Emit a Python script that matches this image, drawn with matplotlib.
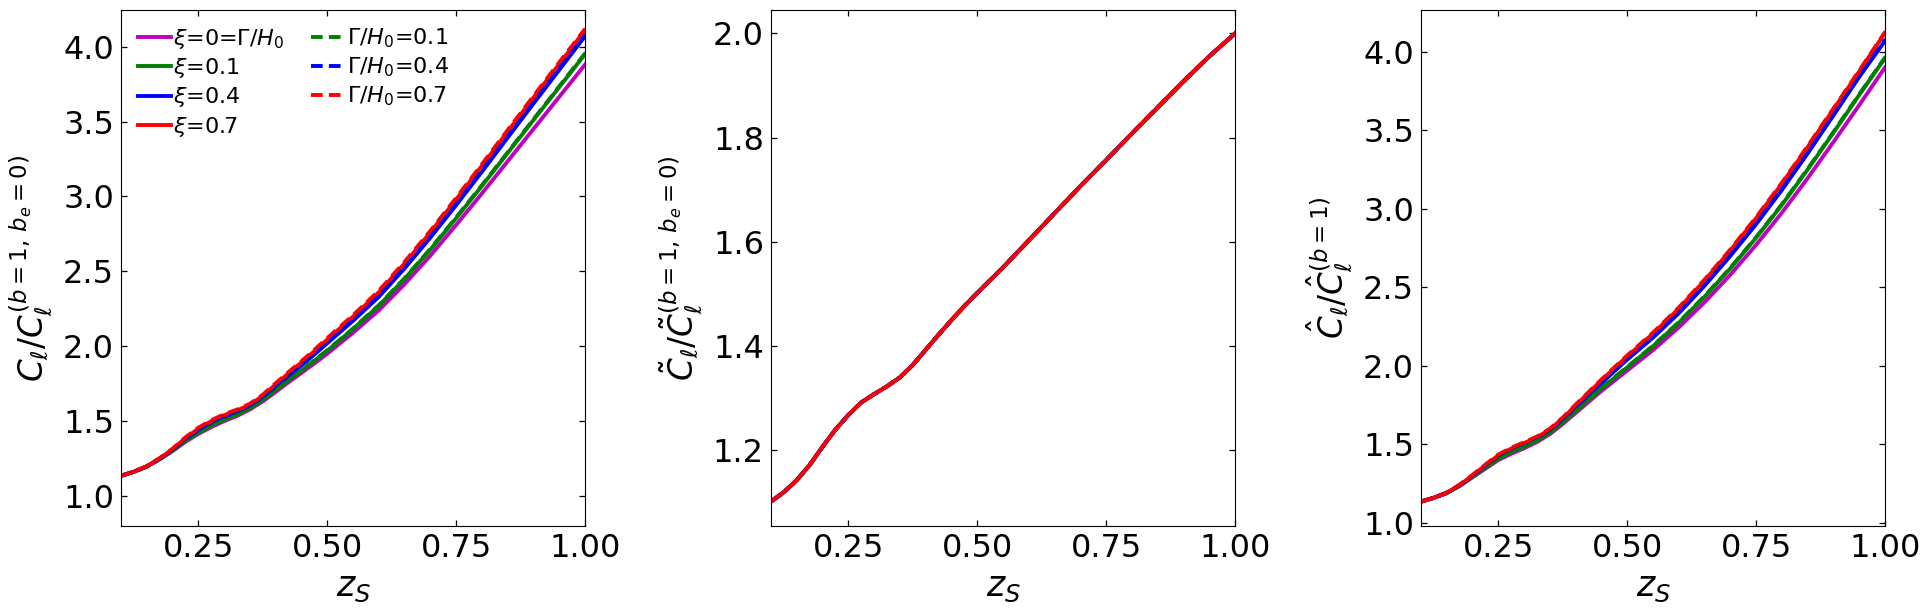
import matplotlib
matplotlib.use("Agg")
import matplotlib.pyplot as plt

z = [0.10, 0.125, 0.15, 0.175, 0.20, 0.225, 0.25, 0.275, 0.30, 0.325, 0.35, 0.375,
     0.40, 0.425, 0.45, 0.475, 0.50, 0.55, 0.60, 0.65, 0.70, 0.75, 0.80, 0.85,
     0.90, 0.95, 1.00]

# Panel 1: C_l / C_l^(b=1, be=0)
p1_xi0 = [1.135, 1.162, 1.197, 1.245, 1.300, 1.362, 1.415, 1.460, 1.500, 1.535, 1.578, 1.632,
          1.695, 1.760, 1.822, 1.885, 1.950, 2.090, 2.240, 2.415, 2.605, 2.810, 3.020, 3.235,
          3.450, 3.665, 3.880]
p1_xi01 = [1.135, 1.162, 1.197, 1.247, 1.304, 1.368, 1.423, 1.470, 1.510, 1.544, 1.586, 1.642,
           1.707, 1.774, 1.838, 1.903, 1.970, 2.115, 2.270, 2.450, 2.645, 2.855, 3.070, 3.290,
           3.510, 3.730, 3.950]
p1_xi04 = [1.135, 1.162, 1.198, 1.249, 1.309, 1.380, 1.440, 1.490, 1.530, 1.562, 1.602, 1.660,
           1.731, 1.803, 1.872, 1.945, 2.020, 2.170, 2.330, 2.520, 2.725, 2.942, 3.165, 3.393,
           3.620, 3.845, 4.070]
p1_xi07 = [1.135, 1.162, 1.199, 1.251, 1.312, 1.387, 1.450, 1.500, 1.540, 1.571, 1.610, 1.670,
           1.745, 1.820, 1.892, 1.967, 2.045, 2.198, 2.360, 2.553, 2.760, 2.980, 3.205, 3.433,
           3.660, 3.885, 4.110]
p1_g01 = [1.135, 1.162, 1.197, 1.247, 1.305, 1.369, 1.425, 1.472, 1.512, 1.546, 1.588, 1.644,
          1.709, 1.776, 1.840, 1.906, 1.973, 2.118, 2.274, 2.454, 2.650, 2.860, 3.075, 3.295,
          3.515, 3.735, 3.955]
p1_g04 = [1.135, 1.162, 1.198, 1.250, 1.311, 1.383, 1.444, 1.494, 1.534, 1.566, 1.606, 1.664,
          1.736, 1.808, 1.877, 1.950, 2.026, 2.176, 2.336, 2.527, 2.732, 2.950, 3.173, 3.401,
          3.628, 3.853, 4.078]
p1_g07 = [1.135, 1.162, 1.200, 1.253, 1.316, 1.392, 1.456, 1.506, 1.546, 1.577, 1.616, 1.677,
          1.753, 1.828, 1.900, 1.976, 2.054, 2.207, 2.370, 2.563, 2.770, 2.990, 3.215, 3.443,
          3.670, 3.895, 4.118]

# Panel 2: tilde C_l ratio (all models nearly coincide)
p2_all = [1.102, 1.120, 1.143, 1.172, 1.207, 1.240, 1.268, 1.292, 1.308, 1.323, 1.340, 1.364,
          1.393, 1.422, 1.450, 1.477, 1.502, 1.551, 1.603, 1.655, 1.707, 1.757, 1.808, 1.858,
          1.908, 1.956, 2.000]

# Panel 3: hat C_l / hat C_l^(b=1)
p3_xi0 = [1.135, 1.160, 1.190, 1.235, 1.290, 1.345, 1.400, 1.440, 1.475, 1.515, 1.565, 1.630,
          1.700, 1.770, 1.840, 1.905, 1.970, 2.100, 2.245, 2.405, 2.580, 2.770, 2.975, 3.195,
          3.425, 3.660, 3.900]
p3_xi01 = [1.135, 1.160, 1.190, 1.237, 1.294, 1.351, 1.408, 1.450, 1.485, 1.524, 1.573, 1.640,
           1.712, 1.784, 1.856, 1.923, 1.990, 2.125, 2.275, 2.440, 2.620, 2.815, 3.025, 3.250,
           3.485, 3.725, 3.960]
p3_xi04 = [1.135, 1.160, 1.191, 1.239, 1.299, 1.363, 1.425, 1.470, 1.505, 1.542, 1.589, 1.658,
           1.736, 1.813, 1.890, 1.965, 2.040, 2.180, 2.335, 2.510, 2.700, 2.902, 3.120, 3.353,
           3.595, 3.840, 4.070]
p3_xi07 = [1.135, 1.160, 1.192, 1.241, 1.302, 1.367, 1.430, 1.473, 1.508, 1.545, 1.595, 1.666,
           1.748, 1.828, 1.908, 1.985, 2.060, 2.205, 2.365, 2.543, 2.735, 2.940, 3.160, 3.393,
           3.633, 3.875, 4.120]
p3_g01 = [1.135, 1.160, 1.190, 1.238, 1.295, 1.353, 1.410, 1.452, 1.487, 1.526, 1.575, 1.642,
          1.715, 1.787, 1.859, 1.926, 1.993, 2.128, 2.278, 2.444, 2.624, 2.819, 3.029, 3.254,
          3.489, 3.729, 3.964]
p3_g04 = [1.135, 1.160, 1.192, 1.241, 1.302, 1.367, 1.429, 1.474, 1.509, 1.546, 1.593, 1.662,
          1.741, 1.818, 1.895, 1.970, 2.045, 2.186, 2.341, 2.516, 2.707, 2.909, 3.127, 3.360,
          3.602, 3.846, 4.076]
p3_g07 = [1.135, 1.160, 1.193, 1.243, 1.305, 1.371, 1.435, 1.478, 1.513, 1.550, 1.600, 1.671,
          1.753, 1.833, 1.913, 1.990, 2.066, 2.211, 2.371, 2.549, 2.741, 2.946, 3.166, 3.399,
          3.639, 3.880, 4.125]

labels = [r'$\xi$=0=$\Gamma/H_0$', r'$\xi$=0.1', r'$\xi$=0.4', r'$\xi$=0.7',
          r'$\Gamma/H_0$=0.1', r'$\Gamma/H_0$=0.4', r'$\Gamma/H_0$=0.7']
colors = ['m', 'g', 'b', 'r', 'g', 'b', 'r']
styles = ['-', '-', '-', '-', '--', '--', '--']

panels = [
    [p1_xi0, p1_xi01, p1_xi04, p1_xi07, p1_g01, p1_g04, p1_g07],
    [p2_all] * 7,
    [p3_xi0, p3_xi01, p3_xi04, p3_xi07, p3_g01, p3_g04, p3_g07],
]
ylabels = [r'$C_\ell/C_\ell^{(b=1,\,b_e=0)}$',
           r'$\tilde{C}_\ell/\tilde{C}_\ell^{(b=1,\,b_e=0)}$',
           r'$\hat{C}_\ell/\hat{C}_\ell^{(b=1)}$']
yticks = [[1.0, 1.5, 2.0, 2.5, 3.0, 3.5, 4.0],
          [1.2, 1.4, 1.6, 1.8, 2.0],
          [1.0, 1.5, 2.0, 2.5, 3.0, 3.5, 4.0]]
ylims = [(0.80, 4.245), (1.055, 2.045), (0.98, 4.266)]

W, H = 1932, 612
fig = plt.figure(figsize=(W / 100, H / 100), dpi=100)
lefts = [121, 771, 1421]

for i in range(3):
    ax = fig.add_axes([lefts[i] / W, 86 / H, 464 / W, 516 / H])
    for series, c, ls, lab in zip(panels[i], colors, styles, labels):
        kw = dict(color=c, lw=2.8, label=lab)
        if ls == '--':
            kw['dashes'] = (3.0, 1.6)
        ax.plot(z, series, **kw)
    ax.set_xlim(0.1, 1.0)
    ax.set_ylim(*ylims[i])
    ax.set_xticks([0.25, 0.50, 0.75, 1.00])
    ax.set_xticklabels(['0.25', '0.50', '0.75', '1.00'])
    ax.set_yticks(yticks[i])
    ax.set_yticklabels(['%.1f' % t for t in yticks[i]])
    ax.tick_params(direction='in', top=True, right=True, labelsize=23, length=4.5,
                   width=0.9, pad=5)
    ax.set_xlabel(r'$z_S$', fontsize=25, labelpad=4)
    ax.set_ylabel(ylabels[i], fontsize=23.5, labelpad=6)
    if i == 0:
        ax.legend(loc='upper left', ncol=2, frameon=False, fontsize=16,
                  handlelength=1.5, handletextpad=0.1, columnspacing=1.2,
                  labelspacing=0.24, borderaxespad=0.5, borderpad=0.25)

fig.savefig('out.png', dpi=100)
